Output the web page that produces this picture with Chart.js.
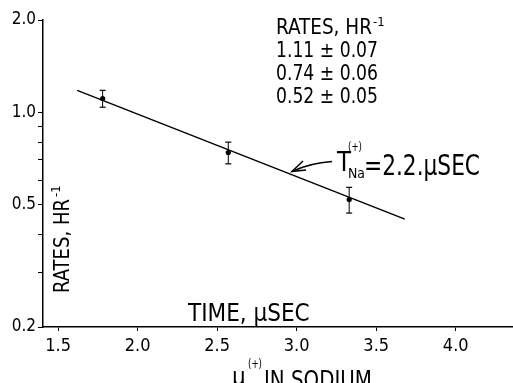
<!DOCTYPE html>
<html>
<head>
<meta charset="utf-8">
<script src="https://cdn.jsdelivr.net/npm/chart.js@4/dist/chart.umd.min.js"></script>
<style>
  html, body { margin: 0; padding: 0; background: #fff; }
  #wrap { width: 513px; height: 383px; position: relative; }
</style>
</head>
<body>
<div id="wrap"><canvas id="c" width="513" height="383"></canvas></div>
<script>
// ---- data ----
const xVals  = [1.78, 2.57, 3.33];        // time, microseconds
const rates  = [1.11, 0.74, 0.52];        // rates, hr^-1
const errs   = [0.07, 0.06, 0.05];        // +/- errors
const fitX   = [1.62, 3.68];              // fitted line end points (x)
const fitY   = [1.18, 0.449];             // fitted line end points (y)
const xTicks = [1.5, 2.0, 2.5, 3.0, 3.5, 4.0];
const xTickLabels = ['1.5', '2.0', '2.5', '3.0', '3.5', '4.0'];
const yTicks = [0.2, 0.3, 0.4, 0.5, 0.6, 0.7, 0.8, 0.9, 1.0, 2.0];
const yLabelValues = [0.2, 0.5, 1.0, 2.0];
const yLabelTexts  = ['0.2', '0.5', '1.0', '2.0'];
const legendLines = ['1.11 \u00B1 0.07', '0.74 \u00B1 0.06', '0.52 \u00B1 0.05'];

const FONT = "'Liberation Sans Narrow', 'DejaVu Sans Condensed', 'Liberation Sans', sans-serif";

const datasets = [];
// fitted line
datasets.push({
  data: fitX.map((x, i) => ({x, y: fitY[i]})),
  showLine: true, borderColor: '#000', borderWidth: 1.5,
  pointRadius: 0, fill: false
});
// error bars
xVals.forEach((x, i) => {
  datasets.push({
    data: [{x, y: rates[i] - errs[i]}, {x, y: rates[i] + errs[i]}],
    showLine: true, borderColor: '#000', borderWidth: 1,
    pointStyle: 'line', pointRadius: 3, pointBorderColor: '#000', pointBorderWidth: 1.2
  });
});
// data points
datasets.push({
  data: xVals.map((x, i) => ({x, y: rates[i]})),
  showLine: false, pointStyle: 'circle', pointRadius: 2.6,
  pointBackgroundColor: '#000', pointBorderColor: '#000', pointBorderWidth: 0
});

function txt(ctx, s, x, y, size, maxW) {
  ctx.font = size + 'px ' + FONT;
  if (maxW) ctx.fillText(s, x, y, maxW); else ctx.fillText(s, x, y);
}

const annot = {
  id: 'annot',
  afterDraw(chart) {
    const ctx = chart.ctx;
    ctx.save();
    ctx.fillStyle = '#000';
    ctx.strokeStyle = '#000';
    ctx.textBaseline = 'alphabetic';
    ctx.textAlign = 'left';
    // top-right legend
    txt(ctx, 'RATES, HR', 276, 34, 21, 96);
    txt(ctx, '-1', 373, 26, 13, 13);
    legendLines.forEach((s, i) => txt(ctx, s, 276, 57 + i * 23, 22, 102));
    // lifetime annotation
    txt(ctx, 'T', 337, 171, 27, 14);
    txt(ctx, '(+)', 348, 151, 13, 14);
    txt(ctx, 'Na', 348, 178, 14, 17);
    txt(ctx, '=2.2.\u03BCSEC', 364, 175, 29, 116);
    // arrow
    ctx.lineWidth = 1.5;
    ctx.beginPath();
    ctx.moveTo(332, 161.5);
    ctx.quadraticCurveTo(310, 163, 292, 171.5);
    ctx.stroke();
    ctx.beginPath();
    ctx.moveTo(303, 161);
    ctx.lineTo(292, 171.5);
    ctx.lineTo(306, 170);
    ctx.stroke();
    // axis titles
    txt(ctx, 'TIME, \u03BCSEC', 188, 321, 24, 129);
    txt(ctx, '\u03BC', 232, 385, 24, 16);
    txt(ctx, '(+)', 248, 368, 12, 14);
    txt(ctx, 'IN SODIUM', 264, 388, 24, 108);
    // rotated y title
    ctx.translate(69, 293);
    ctx.rotate(-Math.PI / 2);
    txt(ctx, 'RATES, HR', 0, 0, 21, 94);
    txt(ctx, '-1', 96, -9, 13, 14);
    ctx.restore();
  }
};

new Chart(document.getElementById('c'), {
  type: 'scatter',
  data: { datasets },
  options: {
    responsive: false,
    animation: false,
    devicePixelRatio: 1,
    layout: { autoPadding: false, padding: { top: 20, left: 0, right: 0, bottom: 0 } },
    plugins: { legend: { display: false }, tooltip: { enabled: false } },
    scales: {
      x: {
        type: 'linear', min: 1.405, max: 4.36,
        afterBuildTicks: s => { s.ticks = xTicks.map(v => ({value: v})); },
        afterFit: s => { s.height = 56; },
        border: { display: true, color: '#000', width: 1.5 },
        grid: { display: true, drawOnChartArea: false, drawTicks: true, tickLength: 4, color: '#000', lineWidth: 1 },
        ticks: {
          color: '#000', padding: 5, maxRotation: 0, autoSkip: false,
          font: { family: FONT, size: 18 },
          callback: v => { const i = xTicks.indexOf(v); return i >= 0 ? xTickLabels[i] : ''; }
        }
      },
      y: {
        type: 'logarithmic', min: 0.2, max: 2.0,
        afterBuildTicks: s => { s.ticks = yTicks.map(v => ({value: v})); },
        afterFit: s => { s.width = 43; },
        border: { display: true, color: '#000', width: 1.5 },
        grid: { display: true, drawOnChartArea: false, drawTicks: true, tickLength: 5, color: '#000', lineWidth: 1 },
        ticks: {
          color: '#000', padding: 2, autoSkip: false,
          font: { family: FONT, size: 17 },
          callback: v => {
            const i = yLabelValues.findIndex(t => Math.abs(t - v) < 1e-9);
            return i >= 0 ? yLabelTexts[i] : '';
          }
        }
      }
    }
  },
  plugins: [annot]
});
</script>
</body>
</html>
